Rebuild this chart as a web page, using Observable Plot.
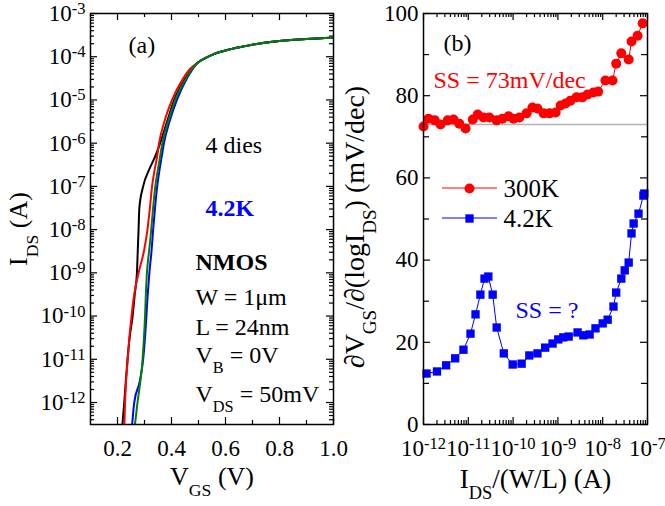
<!DOCTYPE html>
<html><head><meta charset="utf-8">
<script src="https://cdn.jsdelivr.net/npm/d3@7"></script>
<script src="https://cdn.jsdelivr.net/npm/@observablehq/plot@0.6"></script>
<style>
body{margin:0;background:#fff;}
#fig{position:relative;width:665px;height:506px;background:#fff;overflow:hidden;}
#fig svg{position:absolute;top:0;overflow:visible;background:transparent;}
</style></head><body><div id="fig"></div>
<script>
// ---------- Panel (a): I_DS vs V_GS, 4 dies at 4.2K ----------
const idsLevels = [2.5e-13, 1e-12, 3.2e-12, 1e-11, 3.2e-11, 1e-10, 3.2e-10, 1e-9, 3.2e-9, 1e-8, 3.2e-8, 1e-7, 2.5e-7, 5e-7, 1e-6, 3.2e-6, 1e-5, 3.2e-5, 5e-5];
const vgsBlack = [0.217,0.225,0.231,0.237,0.245,0.256,0.264,0.272,0.275,0.278,0.281,0.295,0.318,0.340,0.358,0.384,0.410,0.452,0.472];
const vgsRed   = [0.225,0.228,0.232,0.238,0.244,0.252,0.262,0.278,0.298,0.311,0.320,0.328,0.338,0.347,0.354,0.374,0.402,0.444,0.466];
const vgsBlue  = [0.253,0.262,0.283,0.295,0.302,0.307,0.312,0.318,0.326,0.332,0.339,0.347,0.356,0.364,0.372,0.393,0.420,0.458,0.477];
const vgsGreen = [0.263,0.274,0.285,0.293,0.298,0.302,0.305,0.309,0.317,0.325,0.332,0.340,0.350,0.358,0.366,0.388,0.414,0.455,0.474];
const vgsSat = [0.495, 0.525, 0.557, 0.62, 0.70, 0.80, 0.90, 1.00];
const idsSat = [7.1e-5, 9.3e-5, 1.15e-4, 1.5e-4, 1.9e-4, 2.3e-4, 2.57e-4, 2.75e-4];
const dies = ["black", "red", "blue", "green"];
const dieColors = ["#000000", "#ff0000", "#0000ff", "#008000"];
const dieVgs = [vgsBlack, vgsRed, vgsBlue, vgsGreen];

const xTicksA = [0.2, 0.4, 0.6, 0.8, 1.0];
const xMinorA = [0.3, 0.5, 0.7, 0.9];
const yTicksA = [1e-12, 1e-11, 1e-10, 1e-9, 1e-8, 1e-7, 1e-6, 1e-5, 1e-4, 1e-3];
const yDomainA = [3.1e-13, 1e-3];

// ---------- Panel (b): SS vs I_DS/(W/L) ----------
const idsRed = [1e-12, 1.29e-12, 1.78e-12, 2.4e-12, 3.47e-12, 4.68e-12, 6.3e-12, 8.7e-12, 1.26e-11, 1.62e-11, 2.19e-11, 2.95e-11, 4.27e-11, 5.75e-11, 7.9e-11, 1.02e-10, 1.38e-10, 2.0e-10, 2.7e-10, 3.5e-10, 4.8e-10, 6.5e-10, 8.9e-10, 1.15e-9, 1.48e-9, 1.9e-9, 2.6e-9, 3.5e-9, 4.6e-9, 6.2e-9, 7.9e-9, 1.15e-8, 1.66e-8, 2.0e-8, 2.6e-8, 3.8e-8, 4.4e-8, 6.0e-8, 7.8e-8];
const ssRed = [72.5, 74.4, 74, 73, 74, 74.2, 73.2, 72, 74.2, 75.4, 74.7, 74.7, 74, 74.4, 75, 74.4, 74.7, 75.7, 77.1, 76.9, 75.7, 75.7, 75.9, 77.6, 78.1, 78.8, 79.6, 79.6, 80.3, 80.8, 81, 83.7, 83.7, 87.8, 90.3, 88.8, 93.2, 94.6, 97.6];
const idsBlue = [1.17e-12, 2.0e-12, 3.2e-12, 5.1e-12, 7.8e-12, 1.12e-11, 1.45e-11, 1.86e-11, 2.3e-11, 2.8e-11, 3.5e-11, 4.3e-11, 6.2e-11, 9.8e-11, 1.55e-10, 2.3e-10, 3.5e-10, 5.2e-10, 7.6e-10, 1.02e-9, 1.32e-9, 1.74e-9, 2.75e-9, 3.7e-9, 5.1e-9, 6.9e-9, 1.0e-8, 1.29e-8, 1.74e-8, 2.0e-8, 2.6e-8, 3.1e-8, 3.8e-8, 4.4e-8, 4.9e-8, 6.3e-8, 8.1e-8, 8.5e-8];
const ssBlue = [12.4, 12.9, 14.4, 16.1, 18.2, 22.1, 26.8, 31.6, 35.5, 36, 31.6, 23.6, 17.3, 14.6, 14.8, 16.8, 17.3, 18.7, 19.7, 20.7, 21.2, 21.4, 22.4, 21.7, 21.9, 23.4, 24.6, 25.5, 28.7, 32.1, 35.5, 37.5, 39.4, 46.5, 48.9, 51.3, 55.7, 56.2];
const ssRoomRef = 73;
const seriesNames = ["300K", "4.2K"];
const seriesColors = ["#ff0000", "#0000ff"];

const xTicksB = [1e-12, 1e-11, 1e-10, 1e-9, 1e-8, 1e-7];
const yTicksB = [0, 20, 40, 60, 80, 100];
const yMinorB = [10, 30, 50, 70, 90];

// ---------- helpers ----------
function logMinor(majors, lo, hi) {
  const out = [];
  for (const m of majors) for (let k = 2; k <= 9; k++) { const v = k * m; if (v > lo && v < hi) out.push(v); }
  for (let k = 2; k <= 9; k++) { const v = k * majors[0] / 10; if (v > lo && v < hi) out.push(v); }
  return out;
}
const expFmt = d => `10^{${Math.round(Math.log10(d))}}`;
const font = "'Liberation Serif', 'Times New Roman', serif";

function ticksY(vals, frameW, len) {
  return [
    Plot.tickY(vals, {y: d => d, insetRight: frameW - len, stroke: "#000", strokeWidth: 1.2}),
    Plot.tickY(vals, {y: d => d, insetLeft: frameW - len, stroke: "#000", strokeWidth: 1.2})
  ];
}
function ticksX(vals, frameH, len) {
  return [
    Plot.tickX(vals, {x: d => d, insetTop: frameH - len, stroke: "#000", strokeWidth: 1.2}),
    Plot.tickX(vals, {x: d => d, insetBottom: frameH - len, stroke: "#000", strokeWidth: 1.2})
  ];
}
const note = (txt, dx, dy, extra = {}) =>
  Plot.text([txt], {frameAnchor: "top-left", dx, dy, textAnchor: "start", lineAnchor: "middle", fontSize: 24, ...extra});

// ---------- Panel (a) ----------
const dataA = [];
dies.forEach((die, j) => {
  idsLevels.forEach((i, k) => dataA.push({die, v: dieVgs[j][k], i}));
  vgsSat.forEach((v, k) => dataA.push({die, v, i: idsSat[k]}));
});
const WA = 360, HA = 506, mlA = 90, mrA = 27, mtA = 13, mbA = 82;
const fwA = WA - mlA - mrA, fhA = HA - mtA - mbA;
const yMinorA = logMinor(yTicksA, yDomainA[0], yDomainA[1]);

const plotA = Plot.plot({
  width: WA, height: HA, marginLeft: mlA, marginRight: mrA, marginTop: mtA, marginBottom: mbA,
  style: {fontFamily: font, fontSize: "23px", color: "#000", background: "transparent", overflow: "visible"},
  x: {domain: [0.1, 1.0], label: null},
  y: {type: "log", domain: yDomainA, label: null},
  color: {domain: dies, range: dieColors},
  marks: [
    ...ticksY(yTicksA, fwA, 7),
    ...ticksY(yMinorA, fwA, 4),
    ...ticksX(xTicksA, fhA, 7),
    ...ticksX(xMinorA, fhA, 4),
    Plot.axisX({ticks: xTicksA, tickSize: 0, tickPadding: 15, tickFormat: d => d.toFixed(1), label: null, fontSize: 23}),
    Plot.axisY({ticks: yTicksA, tickSize: 0, tickPadding: 5, tickFormat: expFmt, label: null, fontSize: 23}),
    Plot.line(dataA, {x: "v", y: "i", z: "die", stroke: "die", strokeWidth: 2, curve: "monotone-x", clip: true}),
    note("(a)", 38, 32),
    note("4 dies", 115, 132),
    note("4.2K", 115, 195, {fontWeight: "bold", fill: "#0000ff"}),
    note("NMOS", 105, 249, {fontWeight: "bold"}),
    note("W = 1μm", 105, 284),
    note("L = 24nm", 105, 314),
    note("V_{B} = 0V", 105, 342),
    note("V_{DS} = 50mV", 105, 381),
    Plot.text(["V_{GS} (V)"], {frameAnchor: "bottom", dy: 52, textAnchor: "middle", lineAnchor: "middle", fontSize: 26}),
    Plot.text(["I_{DS} (A)"], {frameAnchor: "left", dx: -72, dy: 10, rotate: -90, textAnchor: "middle", lineAnchor: "middle", fontSize: 26}),
    Plot.frame({stroke: "#000", strokeWidth: 1.5})
  ]
});

// ---------- Panel (b) ----------
const dataRed = idsRed.map((x, k) => ({x, y: ssRed[k]}));
const dataBlue = idsBlue.map((x, k) => ({x, y: ssBlue[k]}));
const WB = 332, HB = 506, mlB = 90, mrB = 18, mtB = 13, mbB = 82;
const fwB = WB - mlB - mrB, fhB = HB - mtB - mbB;
const xMinorB = logMinor(xTicksB, 1e-12, 1e-7);

const plotB = Plot.plot({
  width: WB, height: HB, marginLeft: mlB, marginRight: mrB, marginTop: mtB, marginBottom: mbB,
  style: {fontFamily: font, fontSize: "23px", color: "#000", background: "transparent", overflow: "visible"},
  x: {type: "log", domain: [1e-12, 1e-7], label: null},
  y: {domain: [0, 100], label: null},
  marks: [
    ...ticksY(yTicksB, fwB, 7),
    ...ticksY(yMinorB, fwB, 6),
    ...ticksX(xTicksB, fhB, 7),
    ...ticksX(xMinorB, fhB, 4),
    Plot.axisX({ticks: xTicksB, tickSize: 0, tickPadding: 15, tickFormat: expFmt, label: null, fontSize: 23}),
    Plot.axisY({ticks: yTicksB, tickSize: 0, tickPadding: 5, label: null, fontSize: 23}),
    Plot.ruleY([ssRoomRef], {stroke: "#b4b4b4", strokeWidth: 1.6}),
    Plot.line(dataRed, {x: "x", y: "y", stroke: seriesColors[0], strokeWidth: 1}),
    Plot.dot(dataRed, {x: "x", y: "y", fill: seriesColors[0], r: 5, symbol: "circle"}),
    Plot.line(dataBlue, {x: "x", y: "y", stroke: seriesColors[1], strokeWidth: 1}),
    Plot.dot(dataBlue, {x: "x", y: "y", fill: seriesColors[1], r: 4.7, symbol: "square"}),
    note("(b)", 20, 30),
    note("SS = 73mV/dec", 10, 67, {fill: "#ff0000"}),
    note("SS = ?", 92, 297, {fill: "#0000ff"}),
    // legend (markers + labels)
    Plot.dot([seriesNames[0]], {frameAnchor: "top-left", dx: 46, dy: 175, r: 5, fill: seriesColors[0], symbol: "circle"}),
    Plot.dot([seriesNames[1]], {frameAnchor: "top-left", dx: 46, dy: 205, r: 4.7, fill: seriesColors[1], symbol: "square"}),
    note(seriesNames[0], 80, 175, {fontSize: 25}),
    note(seriesNames[1], 80, 205, {fontSize: 25}),
    Plot.text(["I_{DS}/(W/L) (A)"], {frameAnchor: "bottom", dy: 55, textAnchor: "middle", lineAnchor: "middle", fontSize: 27}),
    Plot.text(["∂V_{GS}/∂(logI_{DS}) (mV/dec)"], {frameAnchor: "left", dx: -68, dy: 8, rotate: -90, textAnchor: "middle", lineAnchor: "middle", fontSize: 28}),
    Plot.frame({stroke: "#000", strokeWidth: 1.5})
  ]
});

const fig = document.getElementById("fig");
plotA.style.left = "0px";
plotB.style.left = "333px";
fig.appendChild(plotA);
fig.appendChild(plotB);

// legend line segments (drawn under the markers)
const leg = d3.select(plotB).insert("g", ":scope > g:last-of-type");
[188, 218].forEach((y, k) => {
  leg.append("line").attr("x1", 109).attr("x2", 164).attr("y1", y).attr("y2", y)
    .attr("stroke", seriesColors[k]).attr("stroke-width", 1);
});

// rich text: _{sub} and ^{sup}
const NS = "http://www.w3.org/2000/svg";
function richify(svg) {
  svg.querySelectorAll("text").forEach(t => {
    if (t.querySelector("tspan")) return;
    const s = t.textContent;
    if (!/[_^]\{/.test(s)) return;
    const fs = parseFloat(getComputedStyle(t).fontSize) || 22;
    t.textContent = "";
    const re = /([_^])\{([^}]*)\}|([^_^]+)/g;
    let m, shift = 0;
    while ((m = re.exec(s))) {
      const ts = document.createElementNS(NS, "tspan");
      if (m[1]) {
        const target = m[1] === "_" ? 0.42 * fs : -0.3 * fs;
        ts.setAttribute("dy", target - shift); shift = target;
        ts.setAttribute("font-size", (m[1] === "_" ? 0.68 : 0.72) * fs);
        ts.textContent = m[2];
      } else {
        ts.setAttribute("dy", -shift); shift = 0;
        ts.textContent = m[3];
      }
      t.appendChild(ts);
    }
  });
}
richify(plotA);
richify(plotB);
</script></body></html>
